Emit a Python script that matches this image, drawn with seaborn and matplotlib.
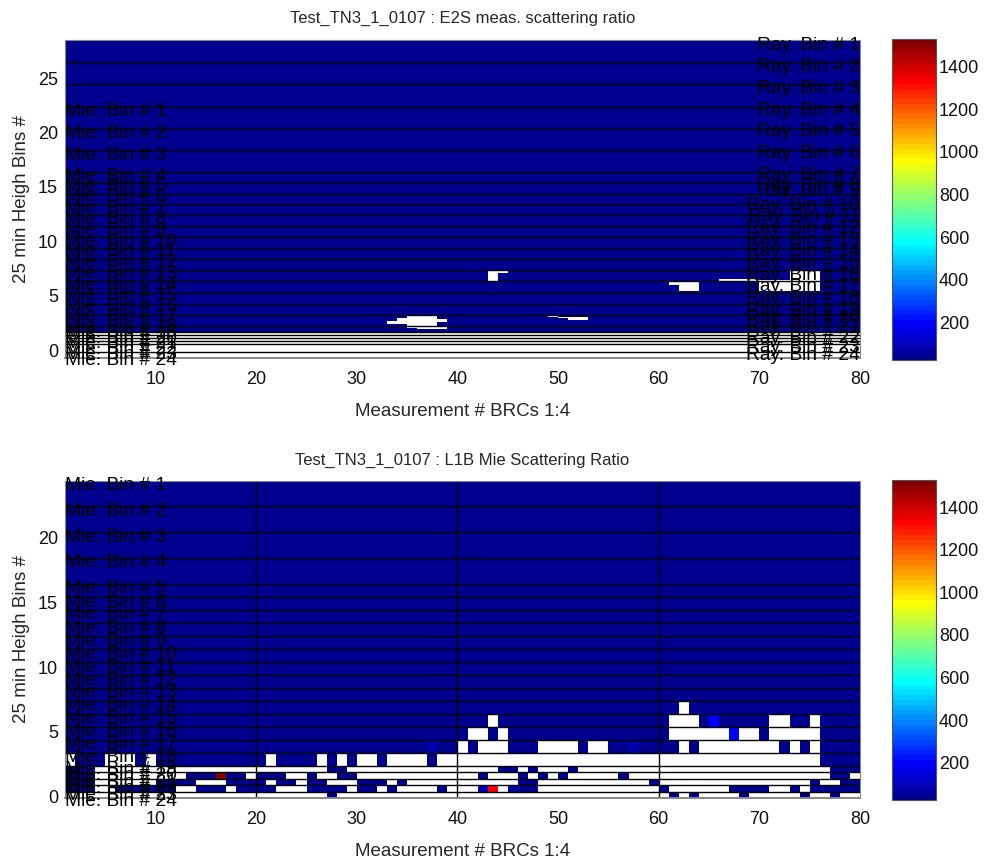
import numpy as np
import matplotlib
matplotlib.use("Agg")
import matplotlib.pyplot as plt
from matplotlib.colors import ListedColormap
import seaborn as sns

sns.set_theme(style="white")
plt.rcParams['font.family'] = ['Liberation Sans', 'DejaVu Sans']

# ---------------- data ----------------
meas_edges = np.arange(1, 81)          # 79 measurement cells [k, k+1]
clim = (25, 1528)

# top panel (E2S) : Rayleigh bin boundaries (25 edges, 24 bins)
ray_edges_top = [28.5, 26.44, 24.42, 22.36, 20.34, 18.35, 16.33, 15.32, 14.40, 13.39,
                 12.38, 11.37, 10.36, 9.35, 8.34, 7.33, 6.32, 5.30, 4.29, 3.28,
                 2.27, 1.68, 1.44, 1.17, 0.85]
mie_extra_edges_top = [0.55, -0.18]
ray_label_y_top = [28.03, 26.10, 24.08, 22.06, 20.13, 18.11, 16.08, 15.17, 14.55, 13.33,
                   12.25, 11.21, 10.11, 9.03, 8.0, 6.89, 5.82, 4.78, 3.68, 2.94,
                   2.14, 1.10, 0.30, -0.46]
mie_label_y_top = [21.97, 19.92, 17.92, 15.93, 15.01, 14.09, 13.02, 12.01, 11.03, 10.02,
                   9.03, 8.02, 7.05, 5.97, 4.99, 3.98, 3.06, 2.14, 1.6, 1.1,
                   0.6, 0.1, -0.4, -0.9]
e2s_level = 30.0
e2s_top, e2s_bottom = 28.5, 1.68
# missing (NaN) ranges : first meas, last meas, low height, high height
e2s_gaps = [(43, 43, 6.37, 7.29), (44, 44, 7.12, 7.30),
            (33, 33, 2.35, 2.67), (34, 34, 2.35, 3.0), (35, 35, 2.12, 3.2),
            (36, 37, 2.0, 3.2), (38, 38, 2.0, 2.2), (38, 38, 2.6, 2.9), (38, 38, 3.15, 3.3),
            (49, 49, 3.05, 3.2), (50, 50, 2.95, 3.12), (51, 52, 2.78, 3.1),
            (61, 61, 6.0, 6.4), (62, 63, 5.45, 6.4),
            (66, 69, 6.38, 6.6),
            (70, 72, 5.5, 6.45), (73, 75, 5.5, 7.35)]

# bottom panel (L1B) : Mie bin boundaries
mie_edges_bot = [24.4, 22.4, 20.4, 18.4, 16.4, 15.4, 14.4, 13.4, 12.4, 11.4, 10.4, 9.4,
                 8.4, 7.4, 6.4, 5.4, 4.4, 3.4, 2.4, 1.9, 1.4, 0.9, 0.4, -0.1, -0.6]
mie_label_y_bot = [23.98, 21.98, 19.98, 18.03, 16.03, 15.0, 14.05, 13.0, 12.0, 11.0,
                   10.0, 9.0, 8.0, 7.0, 6.0, 5.0, 4.0, 3.05, 2.1, 1.6,
                   1.1, 0.6, 0.1, -0.4]
brc_bounds = [20, 40, 60]
l1b_level = 30.0
# white (no data) cells per Mie bin : (first meas, last meas)
l1b_missing = {
    14: [(62, 62)],
    15: [(43, 43), (61, 63), (71, 72), (75, 75)],
    16: [(41, 42), (44, 44), (61, 66), (68, 69), (71, 75)],
    17: [(40, 40), (42, 44), (48, 51), (53, 54), (62, 62), (64, 71), (73, 73), (75, 75)],
    18: [(1, 1), (5, 7), (9, 9), (21, 21), (26, 26), (28, 28), (30, 31), (33, 36), (38, 75)],
    19: [(4, 26), (29, 43), (46, 46), (48, 50), (52, 76)],
    20: [(4, 12), (19, 19), (23, 24), (26, 27), (30, 41), (43, 45), (47, 47),
         (49, 49), (51, 55), (57, 76), (79, 79)],
    21: [(4, 9), (14, 16), (21, 21), (24, 24), (27, 29), (33, 33), (35, 45), (48, 58),
         (60, 74), (76, 77)],
    22: [(4, 5), (12, 13), (17, 17), (22, 24), (29, 29), (32, 32), (34, 37),
         (39, 41), (44, 44), (48, 59), (61, 66), (71, 72), (74, 74)],
    23: [(1, 26), (28, 60), (62, 62), (64, 67), (69, 73), (75, 76), (78, 79)],
    24: [(1, 79)],
}
# cells with higher ratio : (Mie bin, meas, value)
l1b_peaks = [(15, 65, 190), (16, 67, 190), (17, 37, 90), (17, 57, 80), (19, 3, 190),
             (20, 16, 1520), (22, 42, 100), (22, 43, 1330), (22, 45, 70)]

# ---------------- colormap (MATLAB jet 64) ----------------
def matlab_jet(m=64):
    n = m // 4
    u = np.r_[np.arange(1, n + 1) / n, np.ones(n - 1), np.arange(n, 0, -1) / n]
    g = int(np.ceil(n / 2)) - (m % 4 == 1) + np.arange(1, len(u) + 1)
    r = g + n
    b = g - n
    J = np.zeros((m, 3))
    J[r[r <= m] - 1, 0] = u[r <= m]
    J[g[g <= m] - 1, 1] = u[g <= m]
    J[b[b >= 1] - 1, 2] = u[b >= 1]
    return ListedColormap(J)

cmap = matlab_jet(64)
cmap.set_bad('white')

# ---------------- build grids ----------------
ncol = len(meas_edges) - 1
y_fine = np.linspace(e2s_bottom, e2s_top, 269)
yc = 0.5 * (y_fine[:-1] + y_fine[1:])
Z_top = np.full((len(yc), ncol), e2s_level)
for k0, k1, ylo, yhi in e2s_gaps:
    rows = (yc >= ylo) & (yc <= yhi)
    Z_top[np.ix_(rows, np.arange(k0 - 1, k1))] = np.nan

nbin = len(mie_edges_bot) - 1
Z_bot = np.full((nbin, ncol), l1b_level)
for b, ranges in l1b_missing.items():
    for k0, k1 in ranges:
        Z_bot[b - 1, k0 - 1:k1] = np.nan
for b, k, v in l1b_peaks:
    Z_bot[b - 1, k - 1] = v
edges_bot = np.array(mie_edges_bot)[::-1]
Z_bot = Z_bot[::-1]

# ---------------- figure ----------------
W, H = 984, 861
fig = plt.figure(figsize=(W / 100, H / 100), dpi=100)
fig.patch.set_facecolor('white')

def fa(l, t, r, b):
    return [l / W, 1 - b / H, (r - l) / W, (b - t) / H]

ax1 = fig.add_axes(fa(65, 40, 860, 358))
cax1 = fig.add_axes(fa(892, 39, 936, 360))
ax2 = fig.add_axes(fa(65, 481, 860, 798))
cax2 = fig.add_axes(fa(892, 480, 936, 800))

tfs, lfs, bfs = 13, 13.5, 13.8

m1 = ax1.pcolormesh(meas_edges, y_fine, Z_top, cmap=cmap, vmin=clim[0], vmax=clim[1])
for y in ray_edges_top[1:] + mie_extra_edges_top:
    ax1.axhline(y, color='black', lw=1.0)
ax1.set_xlim(1, 80)
ax1.set_ylim(-0.71, 28.5)
ax1.set_xticks(range(10, 81, 10))
ax1.set_yticks(range(0, 26, 5))
for i, yv in enumerate(ray_label_y_top):
    ax1.text(80, yv, f"Ray. Bin # {i + 1}", ha='right', va='center', fontsize=bfs,
             color='black', clip_on=False)
for i, yv in enumerate(mie_label_y_top):
    ax1.text(1.0, yv, f"Mie. Bin # {i + 1}", ha='left', va='center', fontsize=bfs,
             color='black', clip_on=False)

m2 = ax2.pcolormesh(meas_edges, edges_bot, Z_bot, cmap=cmap, vmin=clim[0], vmax=clim[1])
for y in mie_edges_bot[1:24]:
    ax2.axhline(y, color='black', lw=1.0)
for x in brc_bounds:
    ax2.axvline(x, color='black', lw=1.0)
ax2.set_xlim(1, 80)
ax2.set_ylim(-0.1, 24.35)
ax2.set_xticks(range(10, 81, 10))
ax2.set_yticks(range(0, 21, 5))
for i, yv in enumerate(mie_label_y_bot):
    ax2.text(1.0, yv, f"Mie. Bin # {i + 1}", ha='left', va='center', fontsize=bfs,
             color='black', clip_on=False)

for ax in (ax1, ax2):
    ax.tick_params(direction='in', length=6, width=0.8, colors='#111111',
                   labelsize=tfs, top=False, right=False)
    ax.tick_params(axis='x', pad=9)
    ax.tick_params(axis='y', pad=5)
    for s in ax.spines.values():
        s.set_color('#888888')
        s.set_linewidth(0.8)
    ax.spines['bottom'].set_linewidth(1.4)
    ax.set_xlabel("Measurement # BRCs 1:4", fontsize=lfs, labelpad=11)
    ax.set_ylabel("25 min Heigh Bins #", fontsize=lfs, labelpad=6)

for m, cax in ((m1, cax1), (m2, cax2)):
    cb = fig.colorbar(m, cax=cax)
    cb.set_ticks(range(200, 1401, 200))
    cax.tick_params(direction='in', length=4, width=0.8, labelsize=tfs, pad=2,
                    left=True, right=True, colors='#111111')
    cb.outline.set_edgecolor('#555555')
    cb.outline.set_linewidth(0.8)

fig.text(462.5 / W, 1 - 18 / H, "Test_TN3_1_0107 : E2S meas. scattering ratio",
         ha='center', va='center', fontsize=12)
fig.text(462.5 / W, 1 - 460 / H, "Test_TN3_1_0107 : L1B Mie Scattering Ratio",
         ha='center', va='center', fontsize=12)

fig.savefig("out.png", dpi=100, facecolor='white')
